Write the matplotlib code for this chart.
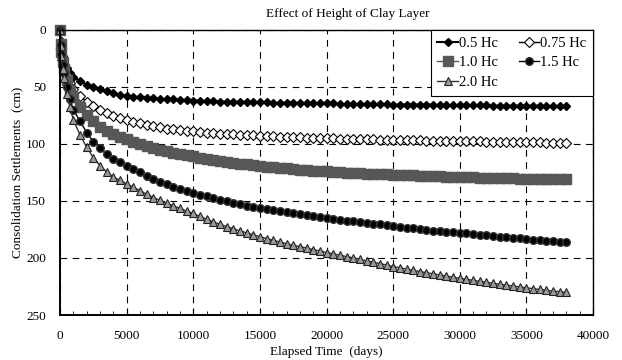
import matplotlib.pyplot as plt
from matplotlib.ticker import MultipleLocator

plt.rcParams['font.family'] = 'Liberation Serif'

# elapsed time (days)
t = [0, 50, 100, 200, 300, 500, 750, 1000, 1500, 2000, 2500,
     3000, 3500, 4000, 4500, 5000, 5500, 6000, 6500, 7000, 7500,
     8000, 8500, 9000, 9500, 10000, 10500, 11000, 11500, 12000, 12500,
     13000, 13500, 14000, 14500, 15000, 15500, 16000, 16500, 17000, 17500,
     18000, 18500, 19000, 19500, 20000, 20500, 21000, 21500, 22000, 22500,
     23000, 23500, 24000, 24500, 25000, 25500, 26000, 26500, 27000, 27500,
     28000, 28500, 29000, 29500, 30000, 30500, 31000, 31500, 32000, 32500,
     33000, 33500, 34000, 34500, 35000, 35500, 36000, 36500, 37000, 37500,
     38000]

# settlements (cm)
s_05 = [0, 10, 16, 23, 28, 33, 38, 41, 45, 48, 50,
        52, 54, 55.5, 57, 58, 58.5, 59, 59.5, 60, 60.5,
        61, 61, 61.5, 61.5, 62, 62, 62.5, 62.5, 63, 63,
        63, 63, 63.5, 63.5, 63.5, 63.5, 64, 64, 64, 64,
        64, 64.5, 64.5, 64.5, 64.5, 64.5, 65, 65, 65, 65,
        65, 65, 65, 65, 65.5, 65.5, 65.5, 65.5, 65.5, 65.5,
        65.5, 66, 66, 66, 66, 66, 66, 66, 66, 66.5,
        66.5, 66.5, 66.5, 66.5, 66.5, 66.5, 66.5, 67, 67, 67,
        67]
s_075 = [0, 11, 18, 26, 32, 40, 47, 52, 58, 63, 67,
         70, 73, 75.5, 77.5, 79, 80.5, 82, 83.3, 84.5, 85.5,
         86.5, 87.3, 88, 88.5, 89, 89.5, 90, 90.5, 91, 91.3,
         91.6, 92, 92.3, 92.6, 93, 93.2, 93.4, 93.6, 93.8, 94,
         94.2, 94.4, 94.6, 94.8, 95, 95.2, 95.4, 95.5, 95.7, 95.8,
         96, 96.1, 96.2, 96.4, 96.5, 96.6, 96.7, 96.8, 96.9, 97,
         97.1, 97.2, 97.3, 97.4, 97.5, 97.6, 97.7, 97.8, 97.9, 98,
         98.1, 98.2, 98.3, 98.4, 98.5, 98.6, 98.7, 98.8, 98.9, 99,
         99]
s_10 = [0, 12, 19, 28, 34, 44, 53, 59, 68, 75, 80,
        85, 88.5, 91.5, 94, 96, 98, 100, 102, 103.5, 105,
        106.5, 108, 109, 110, 111, 112, 113, 114, 115, 115.8,
        116.5, 117.3, 118, 118.6, 119.2, 119.8, 120.5, 121, 121.5, 122,
        122.5, 123, 123.5, 123.8, 124, 124.4, 124.8, 125.1, 125.4, 125.7,
        126, 126.3, 126.5, 126.8, 127, 127.2, 127.4, 127.6, 127.8, 128,
        128.2, 128.4, 128.6, 128.8, 129, 129.2, 129.4, 129.5, 129.7, 129.8,
        130, 130.1, 130.3, 130.4, 130.5, 130.6, 130.7, 130.8, 130.9, 131,
        131]
s_15 = [0, 13, 21, 31, 38, 50, 61, 70, 80, 90, 98,
        104, 109, 113, 116, 119, 122, 125, 128, 131, 133.3,
        135.5, 137.5, 139.5, 141.3, 143, 144.5, 146, 147.5, 149, 150.3,
        151.5, 152.8, 154, 155, 156, 157, 158, 159, 159.8, 160.7,
        161.5, 162.4, 163.3, 164.2, 165, 165.8, 166.5, 167.2, 168, 168.7,
        169.3, 170, 170.6, 171.3, 172, 172.6, 173.3, 174, 174.6, 175.3,
        176, 176.5, 177, 177.5, 178, 178.5, 179, 179.5, 180, 180.6,
        181.2, 181.8, 182.3, 182.9, 183.5, 184, 184.4, 184.8, 185.2, 185.6,
        186]
s_20 = [0, 14, 23, 34, 42, 56, 68, 79, 92, 103, 112,
        119, 124.5, 129, 132, 135, 138, 141, 144, 147, 149.5,
        152, 154.3, 156.5, 158.8, 161, 163.5, 166, 168.3, 170.5, 172.5,
        174.3, 176.2, 178, 179.7, 181.3, 183, 184.5, 186, 187.5, 189,
        190, 191.3, 192.6, 193.9, 195.2, 196.4, 197.6, 198.8, 199.9, 201.2,
        202.5, 203.7, 204.9, 206.2, 207.5, 208.6, 209.7, 210.8, 211.9, 212.9,
        213.9, 214.9, 215.9, 216.9, 217.8, 218.7, 219.6, 220.5, 221.4, 222.2,
        223, 223.8, 224.6, 225.4, 226.2, 226.9, 227.6, 228.3, 229, 229.6,
        230.2]

fig = plt.figure(figsize=(6.22, 3.6), dpi=100)
ax = fig.add_axes([0.0965, 0.125, 0.857, 0.792])

l05, = ax.plot(t, s_05, '-D', color='black', mfc='black', mec='black',
               ms=4.5, lw=1.5, label='0.5 Hc', clip_on=False)
l075, = ax.plot(t, s_075, '-D', color='black', mfc='white', mec='black',
                ms=4.8, mew=0.8, lw=1, label='0.75 Hc', clip_on=False)
l10, = ax.plot(t, s_10, '-s', color='#575757', mfc='#575757', mec='#575757',
               ms=6.5, lw=1, label='1.0 Hc', clip_on=False)
l15, = ax.plot(t, s_15, '-o', color='black', mfc='black', mec='#333333',
               ms=5.5, lw=1, label='1.5 Hc', clip_on=False)
l20, = ax.plot(t, s_20, '-^', color='#333333', mfc='#9a9a9a', mec='#222222',
               ms=6, mew=0.8, lw=1, label='2.0 Hc', clip_on=False)

ax.set_xlim(0, 40000)
ax.set_ylim(250, 0)
ax.xaxis.set_major_locator(MultipleLocator(5000))
ax.xaxis.set_minor_locator(MultipleLocator(1000))
ax.yaxis.set_major_locator(MultipleLocator(50))
ax.tick_params(axis='x', which='major', direction='in', length=5, labelsize=9.5, pad=11)
ax.tick_params(axis='x', which='minor', direction='in', length=3)
ax.tick_params(axis='y', which='major', length=0, labelsize=9.5, pad=10)
ax.grid(True, which='major', color='black', linestyle=(0, (6, 5)), linewidth=0.8)
for sp in ax.spines.values():
    sp.set_linewidth(1)
ax.spines['left'].set_linewidth(1.4)
ax.spines['bottom'].set_linewidth(1.4)

ax.set_title('Effect of Height of Clay Layer', fontsize=9.5, x=0.54, pad=9)
ax.set_xlabel('Elapsed Time  (days)', fontsize=9.5, labelpad=3)
ax.set_ylabel('Consolidation Settlements  (cm)', fontsize=9.5, labelpad=2)

leg = ax.legend(handles=[l05, l10, l20, l075, l15], ncol=2, loc='upper right',
                borderaxespad=0, fancybox=False, framealpha=1, edgecolor='black',
                fontsize=10.5, handlelength=1.4, handletextpad=0.1,
                columnspacing=1.4, labelspacing=0.45, borderpad=0.45)
leg.get_frame().set_linewidth(0.8)

fig.savefig('out.png', dpi=100)
